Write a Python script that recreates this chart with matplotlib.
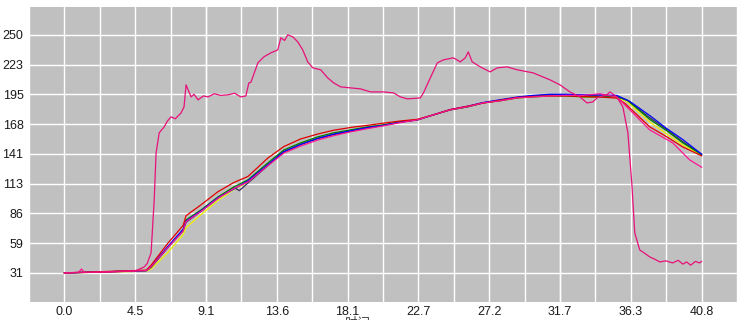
"""
Temperature curves: one furnace trace and a bundle of sensor traces
"""

import matplotlib
import matplotlib.pyplot as plt

matplotlib.use('Agg')

# x tick positions (labels shown with one decimal)
x_ticks = [0.0, 4.533, 9.067, 13.6, 18.133, 22.667, 27.2, 31.733, 36.267, 40.8]
x_tick_labels = ['0.0', '4.5', '9.1', '13.6', '18.1', '22.7', '27.2', '31.7', '36.3', '40.8']
y_tick_labels = ['31', '59', '86', '113', '141', '168', '195', '223', '250']
y_base = 31.4
y_step = 27.34

# Main (furnace) trace
pink_x = [0.0, 1.09, 2.5, 4.53, 5.11, 5.3, 5.55, 5.75, 5.87, 6.07, 6.39, 6.6, 6.83, 7.1, 7.47,
          7.66, 7.79, 8.11, 8.3, 8.56, 8.9, 9.19, 9.6, 10.0, 10.47, 10.9, 11.3, 11.62, 11.81,
          11.94, 12.39, 12.77, 13.22, 13.66, 13.86, 14.1, 14.3, 14.62, 14.94, 15.26, 15.58,
          15.9, 16.41, 16.86, 17.24, 17.69, 18.32, 18.96, 19.6, 20.43, 21.07, 21.52, 21.96,
          22.79, 22.99, 23.43, 23.88, 24.26, 24.9, 25.35, 25.67, 25.86, 26.11, 26.63, 27.26,
          27.71, 28.35, 28.99, 30.01, 31.09, 31.73, 32.37, 33.01, 33.46, 33.84, 34.1, 34.5,
          34.73, 34.93, 35.37, 35.76, 36.08, 36.33, 36.52, 36.84, 37.2, 37.48, 37.8, 38.12,
          38.5, 38.95, 39.3, 39.6, 39.84, 40.1, 40.4, 40.67, 40.8]
pink_y = [31.4, 31.8, 32.0, 33.2, 36.9, 40.0, 49.8, 98.5, 141.7, 160.1, 165.6, 171.0, 174.8,
          173.0, 178.4, 184.0, 204.2, 193.1, 195.5, 190.4, 194.0, 193.1, 196.0, 194.5, 195.0,
          196.5, 193.1, 194.0, 206.0, 206.5, 224.4, 229.9, 233.6, 236.3, 247.4, 245.0, 250.1,
          248.3, 243.7, 236.3, 225.3, 219.8, 218.0, 210.6, 206.0, 202.3, 201.4, 200.5, 197.7,
          197.7, 196.8, 193.1, 191.3, 192.2, 196.8, 210.6, 224.4, 227.1, 229.0, 225.3, 229.0,
          234.5, 225.3, 220.7, 216.1, 219.8, 220.7, 218.0, 215.2, 208.8, 204.2, 197.7, 193.1,
          187.6, 188.5, 192.2, 194.0, 195.0, 197.7, 193.1, 183.9, 160.1, 114.1, 68.2, 52.5,
          49.0, 46.1, 44.0, 41.5, 42.5, 40.6, 43.0, 39.5, 41.5, 38.5, 42.0, 40.6, 42.0]

# Sensor traces (shared rise, separate cooling branches)
green_x = [0.0, 5.24, 5.55, 6.64, 7.6, 7.79, 8.75, 9.83, 10.85, 11.75, 13.03, 14.05, 15.13,
           16.22, 17.24, 18.32, 19.41, 20.43, 21.52, 22.6, 23.62, 24.71, 25.8, 26.82, 27.9,
           28.99, 30.01, 31.09, 32.18, 33.2, 34.29, 35.37, 36.01, 37.48, 38.57, 39.59, 40.8]
green_y = [31.4, 33.5, 36.9, 55.3, 70.9, 80.1, 89.3, 101.2, 110.4, 116.9, 132.5, 144.4, 150.9,
           156.4, 160.1, 162.8, 165.6, 167.4, 170.2, 172.0, 176.6, 181.2, 183.9, 187.6, 189.5,
           192.2, 193.1, 194.0, 194.0, 193.1, 193.1, 193.1, 190.4, 172.5, 162.0, 151.0, 140.0]

blue_x = [0.0, 5.24, 5.55, 6.64, 7.6, 7.79, 8.75, 9.83, 10.85, 11.75, 13.03, 14.05, 15.13,
          16.22, 17.24, 18.32, 19.41, 20.43, 21.52, 22.6, 23.62, 24.71, 25.8, 26.82, 27.9,
          28.99, 30.01, 31.09, 32.18, 33.2, 34.29, 35.37, 36.2, 37.48, 38.57, 39.59, 40.8]
blue_y = [31.4, 33.5, 37.5, 56.0, 71.5, 79.0, 88.5, 100.5, 108.5, 116.0, 131.0, 143.0, 149.5,
          155.0, 159.0, 162.0, 165.0, 167.0, 170.0, 172.0, 176.6, 181.5, 184.5, 188.0, 190.5,
          193.0, 194.5, 195.5, 195.5, 195.0, 195.0, 194.5, 189.0, 176.0, 164.0, 154.0, 140.5]

red_x = [0.0, 5.24, 5.55, 6.64, 7.6, 7.79, 8.75, 9.83, 10.85, 11.75, 13.03, 14.05, 15.13,
         16.22, 17.24, 18.32, 19.41, 20.43, 21.52, 22.6, 23.62, 24.71, 25.8, 26.82, 27.9,
         28.99, 30.01, 31.09, 32.18, 33.2, 34.29, 35.37, 35.9, 37.48, 38.57, 39.59, 40.8]
red_y = [31.4, 34.0, 38.5, 59.0, 75.0, 84.0, 94.0, 106.0, 114.5, 120.0, 137.0, 147.5, 154.5,
         159.0, 162.5, 165.0, 167.0, 169.0, 171.0, 172.5, 176.6, 181.5, 184.5, 187.5, 190.0,
         192.5, 193.5, 194.0, 194.0, 193.5, 193.0, 192.0, 187.0, 165.6, 156.4, 147.2, 139.0]

yellow_x = [0.0, 5.24, 5.55, 6.64, 7.6, 7.79, 8.75, 9.83, 10.85, 11.75, 13.03, 14.05, 15.13,
            16.22, 17.24, 18.32, 19.41, 20.43, 21.52, 22.6, 23.62, 24.71, 25.8, 26.82, 27.9,
            28.99, 30.01, 31.09, 32.18, 33.2, 34.29, 35.37, 36.01, 37.48, 38.57, 39.59, 40.8]
yellow_y = [31.4, 33.0, 35.0, 50.5, 66.5, 73.0, 85.0, 98.0, 108.0, 115.0, 131.5, 143.5, 150.0,
            155.5, 159.5, 162.5, 165.5, 167.5, 170.0, 172.0, 176.6, 181.2, 184.0, 187.6, 189.5,
            192.2, 193.1, 194.0, 194.0, 193.1, 193.1, 192.5, 189.0, 170.0, 159.0, 149.0, 139.5]

dark_x = [0.0, 5.24, 5.55, 6.64, 7.6, 7.79, 8.75, 9.83, 10.85, 11.2, 11.75, 13.03, 14.05,
          15.13, 16.22, 17.24, 18.32, 19.41, 20.43, 21.52, 22.6, 23.62, 24.71, 25.8, 26.82,
          27.9, 28.99, 30.01, 31.09, 32.18, 33.2, 34.29, 35.37, 36.1, 37.48, 38.57, 39.59, 40.8]
dark_y = [31.4, 33.5, 36.5, 55.0, 70.0, 78.0, 88.0, 100.0, 110.0, 107.0, 114.0, 130.0, 142.5,
          149.5, 155.0, 158.5, 161.5, 164.5, 167.0, 170.0, 172.0, 176.6, 181.2, 184.0, 187.6,
          190.0, 192.5, 194.0, 195.0, 195.0, 194.5, 194.0, 193.5, 189.5, 174.0, 163.0, 152.0, 140.5]

pink2_x = [0.0, 0.9, 1.09, 1.3, 5.24, 5.55, 6.64, 7.6, 7.79, 8.75, 9.83, 10.85, 11.75, 13.03,
           14.05, 15.13, 16.22, 17.24, 18.32, 19.41, 20.43, 21.52, 22.6, 23.62, 24.71, 25.8,
           26.82, 27.9, 28.99, 30.01, 31.09, 32.18, 33.2, 34.29, 35.37, 35.76, 37.48, 38.95,
           40.03, 40.8]
pink2_y = [31.4, 32.0, 35.0, 31.8, 33.5, 37.0, 55.0, 70.0, 78.5, 88.0, 100.0, 109.0, 115.0,
           130.0, 141.5, 148.0, 153.5, 157.5, 161.0, 164.0, 166.5, 169.5, 172.0, 176.6, 181.2,
           184.0, 187.6, 189.5, 192.2, 193.1, 194.0, 194.5, 194.5, 196.0, 193.0, 187.6, 162.8,
           150.9, 135.3, 128.5]

fig = plt.figure(figsize=(7.46, 3.2), dpi=100)
ax = fig.add_axes([29 / 746, 18 / 320, 708 / 746, 295 / 320])
ax.set_facecolor('#c0c0c0')

line_w = 0.9
ax.plot(yellow_x, yellow_y, color='#f0f000', linewidth=line_w)
ax.plot(dark_x, dark_y, color='#303060', linewidth=line_w)
ax.plot(green_x, green_y, color='#008000', linewidth=line_w)
ax.plot(blue_x, blue_y, color='#0000ff', linewidth=line_w)
ax.plot(red_x, red_y, color='#e00000', linewidth=line_w)
ax.plot(pink2_x, pink2_y, color='#ff1493', linewidth=line_w)
ax.plot(pink_x, pink_y, color='#e8107a', linewidth=line_w)

# axes limits and grid
ax.set_xlim(-2.2, 43.03)
ax.set_ylim(4.7, 275.7)
minor_x = [-2.267 + 2.2667 * i for i in range(21)]
ax.set_xticks(minor_x, minor=True)
ax.set_xticks(x_ticks)
ax.set_xticklabels(x_tick_labels)
y_ticks = [y_base + y_step * i for i in range(len(y_tick_labels))]
ax.set_yticks(y_ticks)
ax.set_yticklabels(y_tick_labels)
ax.grid(True, which='both', color='white', linewidth=1.0)
ax.set_axisbelow(True)

for s in ax.spines.values():
    s.set_visible(False)
ax.tick_params(which='both', length=0, labelsize=9, colors='#1a1a1a', pad=4)
ax.tick_params(axis='x', pad=3)
for lbl in ax.get_xticklabels() + ax.get_yticklabels():
    lbl.set_family('Liberation Sans')

# axis title, mostly cut off at the bottom edge
fig.text(357 / 746, 1 - 316.5 / 320, '时间', ha='center', va='top', fontsize=9,
         color='#404040', family=['Noto Sans CJK SC', 'DejaVu Sans'])

plt.savefig('out.png')
plt.close()
